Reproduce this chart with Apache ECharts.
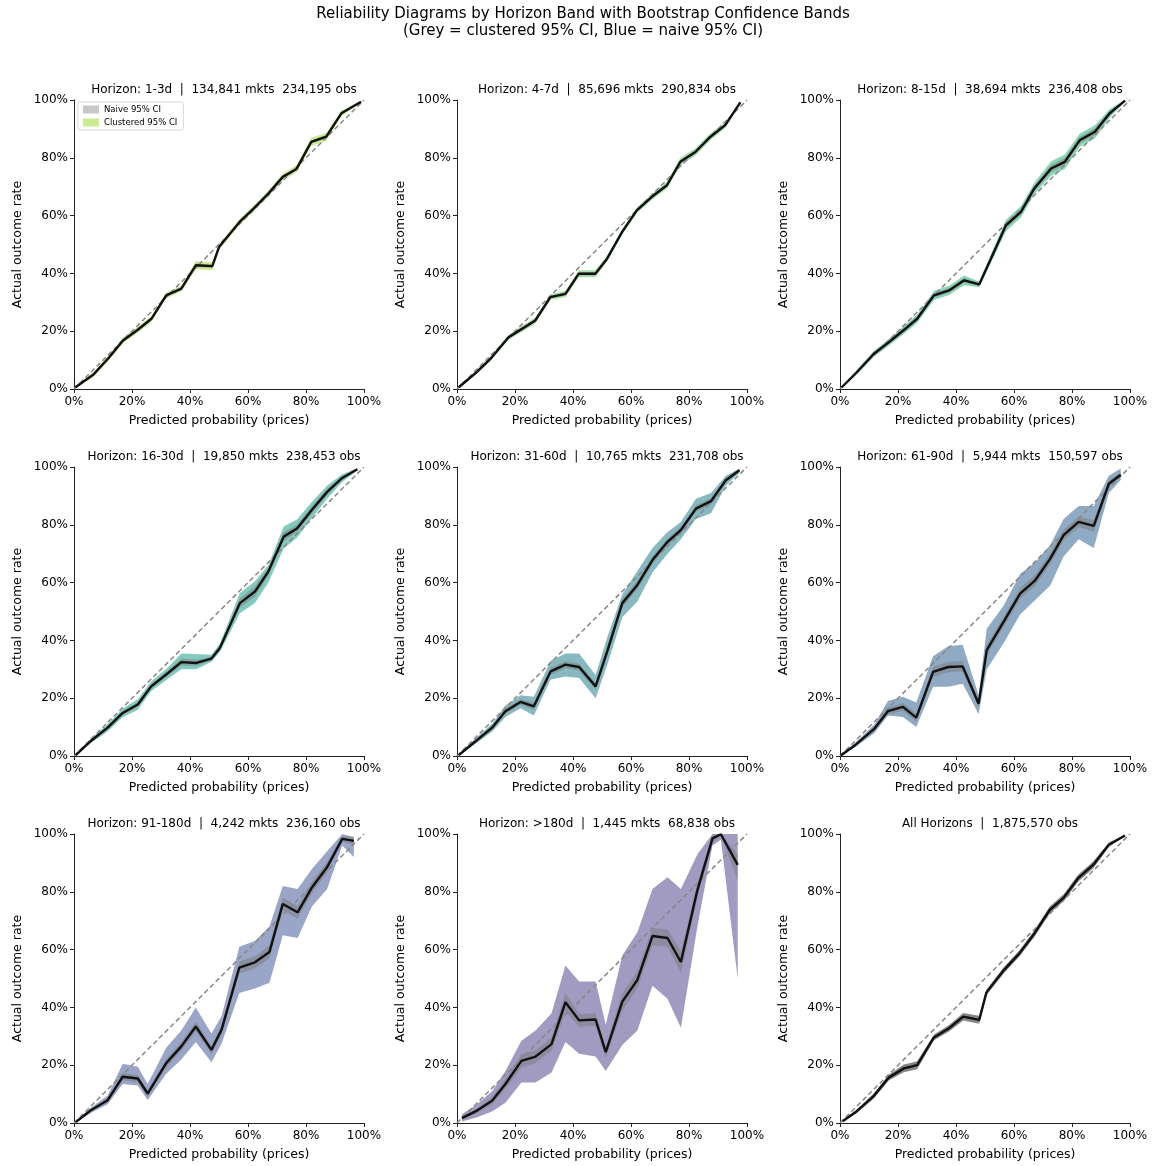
<!DOCTYPE html>
<html>
<head>
<meta charset="utf-8">
<script src="https://cdn.jsdelivr.net/npm/echarts@6/dist/echarts.min.js"></script>
<style>
  html, body { margin: 0; padding: 0; background: #fff; }
  #chart { width: 1156px; height: 1166px; }
</style>
</head>
<body>
<div id="chart"></div>
<script>
// ---- Reliability data: mean predicted probability (%) per bin, observed rate (%),
// ---- clustered bootstrap 95% CI and naive bootstrap 95% CI.

const panelTitles = [
  'Horizon: 1-3d  |  134,841 mkts  234,195 obs',
  'Horizon: 4-7d  |  85,696 mkts  290,834 obs',
  'Horizon: 8-15d  |  38,694 mkts  236,408 obs',
  'Horizon: 16-30d  |  19,850 mkts  238,453 obs',
  'Horizon: 31-60d  |  10,765 mkts  231,708 obs',
  'Horizon: 61-90d  |  5,944 mkts  150,597 obs',
  'Horizon: 91-180d  |  4,242 mkts  236,160 obs',
  'Horizon: >180d  |  1,445 mkts  68,838 obs',
  'All Horizons  |  1,875,570 obs'
];

// 1-3d
const pred_1_3   = [0.5, 6.6, 12, 16.9, 22, 26.7, 31.8, 37, 42, 47.7, 50, 57.1, 62, 67, 72, 76.7, 81.8, 87, 92.2, 99];
const obs_1_3    = [0.6, 4.9, 10.8, 16.8, 20.5, 24.3, 32.4, 34.7, 42.8, 42.5, 49.1, 57.8, 62.5, 67.6, 73.4, 76.1, 85.5, 87.3, 95.4, 99.4];
const cluLo_1_3  = [0.3, 4.1, 9.9, 15.8, 19.5, 23.3, 31.4, 33.7, 41.4, 41.1, 48.1, 56.8, 61.5, 66.6, 72.2, 74.9, 84.1, 85.9, 94.4, 99.1];
const cluHi_1_3  = [0.9, 5.7, 11.7, 17.8, 21.5, 25.3, 33.4, 35.7, 44.2, 43.9, 50.1, 58.8, 63.5, 68.6, 74.6, 77.3, 86.9, 88.7, 96.4, 99.7];
const naiLo_1_3  = [0.4, 4.4, 10.3, 16.3, 20, 23.8, 31.9, 34.2, 42.2, 41.9, 48.6, 57.3, 62, 67.1, 72.9, 75.6, 84.9, 86.7, 94.9, 99.2];
const naiHi_1_3  = [0.8, 5.4, 11.3, 17.3, 21, 24.8, 32.9, 35.2, 43.4, 43.1, 49.6, 58.3, 63, 68.1, 73.9, 76.6, 86.1, 87.9, 95.9, 99.6];

// 4-7d
const pred_4_7   = [0.6, 6.5, 11.5, 17.8, 22.4, 27, 32.2, 37.4, 42, 47.7, 51.7, 56.9, 62, 67.2, 72.4, 77, 82.2, 87.4, 92.5, 97.7];
const obs_4_7    = [0.6, 5.6, 10.4, 17.9, 20.8, 23.7, 31.8, 32.9, 39.9, 39.9, 45, 54.3, 61.8, 66.5, 70.5, 78.6, 82, 87.3, 91.3, 99.2];
const cluLo_4_7  = [0.3, 4.9, 9.6, 17, 19.8, 22.7, 30.8, 31.8, 38.7, 38.7, 44, 53.3, 60.8, 65.5, 69.3, 77.3, 80.7, 86.1, 90.3, 98.9];
const cluHi_4_7  = [0.9, 6.3, 11.2, 18.8, 21.8, 24.7, 32.8, 34, 41.1, 41.1, 46, 55.3, 62.8, 67.5, 71.7, 79.9, 83.3, 88.5, 92.3, 99.5];
const naiLo_4_7  = [0.4, 5.1, 9.9, 17.4, 20.3, 23.2, 31.3, 32.4, 39.3, 39.3, 44.5, 53.8, 61.3, 66, 70, 78, 81.4, 86.8, 90.8, 99];
const naiHi_4_7  = [0.8, 6.1, 10.9, 18.4, 21.3, 24.2, 32.3, 33.4, 40.5, 40.5, 45.5, 54.8, 62.3, 67, 71, 79.2, 82.6, 87.8, 91.8, 99.4];

// 8-15d
const pred_8_15  = [0.6, 5.8, 11.6, 17, 22, 26.6, 32.4, 37.6, 42.8, 48, 52, 57.2, 62.4, 67, 72.8, 77.5, 82.7, 87.9, 93, 98.3];
const obs_8_15   = [0.6, 5.8, 12.1, 16.3, 20.4, 24.3, 32.4, 34.1, 37.6, 36.2, 45, 56.6, 61.3, 69.4, 76.3, 78.6, 86.1, 89, 95.4, 99.8];
const cluLo_8_15 = [0.3, 5, 11.1, 15.1, 19, 22.8, 30.8, 32.5, 35.9, 35.2, 43.5, 54.6, 59.3, 67.4, 73.8, 76.1, 83.8, 86.7, 93.9, 99.5];
const cluHi_8_15 = [0.9, 6.6, 13.1, 17.5, 21.8, 25.8, 34, 35.7, 39.3, 37.2, 46.5, 58.6, 63.3, 71.4, 78.8, 81.1, 88.4, 91.3, 96.9, 100];
const naiLo_8_15 = [0.4, 5.3, 11.4, 15.6, 19.6, 23.5, 31.6, 33.3, 36.8, 35.6, 44.2, 55.6, 60.3, 68.4, 75, 77.3, 84.9, 87.8, 94.6, 99.6];
const naiHi_8_15 = [0.8, 6.3, 12.8, 17, 21.2, 25.1, 33.2, 34.9, 38.4, 36.8, 45.8, 57.6, 62.3, 70.4, 77.6, 79.9, 87.3, 90.2, 96.2, 100];

// 16-30d
const pred_16_30  = [0.6, 5.8, 11.6, 16.8, 22, 26.6, 31.8, 37, 42.2, 47.4, 50.3, 57.2, 62.4, 67, 72.3, 76.9, 82, 87.3, 92.5, 97.7];
const obs_16_30   = [0.3, 5.2, 9.8, 14.9, 17.8, 24.1, 28.2, 32.5, 32.2, 33.7, 37.4, 52.9, 56.9, 63.8, 75.9, 78.7, 85.1, 91.4, 96.2, 99.2];
const cluLo_16_30 = [0.1, 4.4, 8.5, 13.4, 16, 22.4, 26.3, 30, 30, 32.6, 36, 49.4, 52.9, 60, 71.8, 75.5, 82.3, 89, 94.8, 98.8];
const cluHi_16_30 = [0.5, 6, 11.1, 16.4, 19.6, 25.8, 30.1, 35.5, 35.3, 35, 38.8, 56.4, 60.5, 66, 79.4, 81.8, 87.9, 93.6, 97.5, 99.6];
const naiLo_16_30 = [0.2, 4.8, 9.2, 14.2, 17, 23.3, 27.3, 31.3, 31.1, 33.1, 36.7, 51.3, 55.1, 62.5, 74.4, 77.4, 83.9, 90.4, 95.6, 99];
const naiHi_16_30 = [0.4, 5.6, 10.4, 15.6, 18.6, 24.9, 29.1, 33.7, 33.3, 34.3, 38.1, 54.5, 58.7, 65.1, 77.4, 80, 86.3, 92.4, 96.8, 99.4];

// 31-60d
const pred_31_60  = [0.6, 5.8, 12.1, 16.7, 21.9, 26.5, 32.3, 37.4, 42.1, 47.8, 51.8, 57, 62.2, 67.4, 72.6, 77.2, 82.4, 87.6, 92.7, 97.4];
const obs_31_60   = [0.3, 4.6, 9.8, 15.5, 18.7, 17.2, 29.3, 31.6, 30.8, 24.1, 36.2, 52.9, 59.2, 67.8, 74.1, 78.2, 85.6, 88.2, 95.4, 98.9];
const cluLo_31_60 = [0.1, 3.8, 8.4, 13.5, 16.5, 14, 26.5, 27.5, 27, 20, 31.5, 48, 53.5, 63.5, 70, 75, 82, 84, 93.5, 98];
const cluHi_31_60 = [0.6, 5.5, 11.2, 17.5, 21, 20.5, 33, 35.5, 35.5, 28, 41, 56, 64, 72, 77.5, 81, 89, 91, 97, 99.5];
const naiLo_31_60 = [0.2, 4.1, 9.1, 14.6, 17.7, 16, 28.1, 30.4, 29.6, 22.9, 34.8, 51.5, 57.8, 66.5, 72.9, 77.1, 84.5, 87.1, 94.6, 98.6];
const naiHi_31_60 = [0.5, 5.1, 10.5, 16.4, 19.7, 18.4, 30.5, 32.8, 32, 25.3, 37.6, 54.3, 60.6, 69.1, 75.3, 79.3, 86.7, 89.3, 96.2, 99.2];

// 61-90d
const pred_61_90  = [0.3, 5.5, 11.9, 16.5, 21.7, 26.3, 32.1, 37.3, 42.3, 47.8, 50.6, 56.4, 62.1, 67.3, 72.5, 77.1, 82.3, 87.5, 92.7, 96.8];
const obs_61_90   = [0.2, 4, 9.5, 15.5, 17, 13.3, 29.1, 30.8, 31, 18.1, 36.6, 46.4, 56.2, 60.8, 68.3, 76.4, 81, 79.6, 94.2, 97.3];
const cluLo_61_90 = [0.1, 3.2, 8, 14, 13.5, 10, 24, 24, 25, 14.5, 30, 39, 49, 54, 59, 69, 75, 72, 91, 95.5];
const cluHi_61_90 = [0.4, 4.8, 11, 19, 20.5, 18.5, 34.5, 38, 38.5, 21, 44, 52, 63, 67, 73, 82, 86.5, 86.5, 97, 99.5];
const naiLo_61_90 = [0.1, 3.6, 8.8, 14.3, 15.7, 11.9, 27.4, 29, 29.2, 16.8, 34.8, 44.6, 54.3, 58.9, 66.4, 74.6, 79.2, 77.6, 93, 96.6];
const naiHi_61_90 = [0.3, 4.4, 10.2, 16.7, 18.3, 14.7, 30.8, 32.6, 32.8, 19.4, 38.4, 48.2, 58.1, 62.7, 70.2, 78.2, 82.8, 81.6, 95.4, 98];

// 91-180d
const pred_91_180  = [0.6, 5.8, 11.6, 16.8, 22, 25.4, 31.8, 37, 42, 47.4, 50.9, 57, 62.4, 67.4, 72, 77.1, 82.1, 87.3, 92.5, 96.5];
const obs_91_180   = [0.3, 4.4, 7.9, 16, 15.4, 10.2, 20.7, 26.5, 33.4, 25.3, 32.3, 53.8, 55.6, 59.2, 75.8, 72.9, 81.6, 88.6, 98.3, 97.6];
const cluLo_91_180 = [0.1, 3.5, 6.5, 13.5, 13, 8, 17, 22, 28, 21, 27.5, 45, 46.5, 48.5, 65, 64, 75, 81, 96, 92];
const cluHi_91_180 = [0.6, 5.3, 9.5, 20.5, 19.5, 13.5, 26, 32, 40, 31, 37, 61, 63, 68, 82, 81, 88, 94, 100, 99];
const naiLo_91_180 = [0.2, 4, 7.2, 14.8, 14.2, 9.2, 19.3, 25, 31.8, 23.8, 30.8, 51.7, 53.5, 57, 73.6, 70.7, 79.6, 86.8, 97.3, 96.2];
const naiHi_91_180 = [0.4, 4.8, 8.6, 17.2, 16.6, 11.2, 22.1, 28, 35, 26.8, 33.8, 55.9, 57.7, 61.4, 78, 75.1, 83.6, 90.4, 99.3, 99];

// >180d
const pred_180p  = [1.7, 6.9, 12.1, 16.7, 22.2, 27.1, 32.6, 37.4, 42.1, 47.8, 51.3, 57, 62.2, 67.4, 72.6, 77.2, 82.9, 88.1, 91, 96.8];
const obs_180p   = [1.7, 4.3, 7.7, 13.5, 21.5, 23, 27.3, 41.8, 35.5, 35.8, 24.5, 42, 49.5, 64.7, 64, 55.7, 80.6, 98.5, 99.9, 89.3];
const cluLo_180p = [0.5, 2, 4, 7, 14, 14, 17.5, 28, 24, 23, 18, 27, 32, 47.5, 43, 33, 68, 96, 98, 50];
const cluHi_180p = [3, 6.5, 11, 18, 28.5, 32, 38, 54.5, 49, 49, 34, 58, 66, 81, 85, 81, 93, 100, 100, 100];
const naiLo_180p = [1.2, 3.5, 6.5, 11.8, 19.2, 20.8, 25, 38.5, 33.3, 33.6, 22.5, 39, 46.5, 61.5, 61, 52, 78, 97, 99.5, 84];
const naiHi_180p = [2.2, 5.1, 8.9, 15.2, 23.8, 25.2, 29.6, 45, 37.7, 38, 26.5, 45, 52.5, 67.5, 67, 59.5, 83, 99.5, 100, 93];

// All horizons
const pred_all  = [0.9, 5.8, 11.6, 16.8, 22, 26.6, 32.4, 37.6, 42.5, 48, 50.5, 56.6, 61.8, 67, 72.3, 77.2, 82.1, 87.3, 92.7, 98.3];
const obs_all   = [0.6, 4.1, 9.3, 15.7, 18.9, 20, 29.6, 32.8, 36.8, 35.7, 45.2, 53, 58.6, 65.5, 73.7, 78, 84.7, 89.3, 96.3, 99.5];
const cluLo_all = [0.4, 3.5, 8.4, 14.7, 17.6, 18.6, 28.6, 31.7, 35.5, 34.3, 44.2, 51.9, 57.5, 64.4, 72.5, 76.8, 83.5, 88.1, 95.5, 99.3];
const cluHi_all = [0.8, 4.7, 10.2, 16.7, 20.2, 21.4, 30.6, 33.9, 38.1, 37.1, 46.2, 54.1, 59.7, 66.6, 74.9, 79.2, 85.9, 90.5, 97.1, 99.7];
const naiLo_all = [0.5, 3.8, 9, 15.3, 18.4, 19.5, 29.2, 32.4, 36.3, 35.2, 44.8, 52.6, 58.2, 65.1, 73.3, 77.6, 84.3, 88.9, 96, 99.4];
const naiHi_all = [0.7, 4.4, 9.6, 16.1, 19.4, 20.5, 30, 33.2, 37.3, 36.2, 45.6, 53.4, 59, 65.9, 74.1, 78.4, 85.1, 89.7, 96.6, 99.6];

// Perfect-calibration reference
const diagonal = [[0, 0], [100, 100]];

// ---- Assemble panels
const panels = [
  { x: pred_1_3,    y: obs_1_3,    cLo: cluLo_1_3,    cHi: cluHi_1_3,    nLo: naiLo_1_3,    nHi: naiHi_1_3 },
  { x: pred_4_7,    y: obs_4_7,    cLo: cluLo_4_7,    cHi: cluHi_4_7,    nLo: naiLo_4_7,    nHi: naiHi_4_7 },
  { x: pred_8_15,   y: obs_8_15,   cLo: cluLo_8_15,   cHi: cluHi_8_15,   nLo: naiLo_8_15,   nHi: naiHi_8_15 },
  { x: pred_16_30,  y: obs_16_30,  cLo: cluLo_16_30,  cHi: cluHi_16_30,  nLo: naiLo_16_30,  nHi: naiHi_16_30 },
  { x: pred_31_60,  y: obs_31_60,  cLo: cluLo_31_60,  cHi: cluHi_31_60,  nLo: naiLo_31_60,  nHi: naiHi_31_60 },
  { x: pred_61_90,  y: obs_61_90,  cLo: cluLo_61_90,  cHi: cluHi_61_90,  nLo: naiLo_61_90,  nHi: naiHi_61_90 },
  { x: pred_91_180, y: obs_91_180, cLo: cluLo_91_180, cHi: cluHi_91_180, nLo: naiLo_91_180, nHi: naiHi_91_180 },
  { x: pred_180p,   y: obs_180p,   cLo: cluLo_180p,   cHi: cluHi_180p,   nLo: naiLo_180p,   nHi: naiHi_180p },
  { x: pred_all,    y: obs_all,    cLo: cluLo_all,    cHi: cluHi_all,    nLo: naiLo_all,    nHi: naiHi_all }
];

// Band colours (viridis, reversed, translucent); last panel uses a dark grey band
const bandColors = [
  'rgba(160,218,57,0.55)',
  'rgba(94,201,98,0.55)',
  'rgba(47,180,124,0.55)',
  'rgba(31,158,137,0.55)',
  'rgba(39,127,142,0.55)',
  'rgba(52,100,145,0.55)',
  'rgba(62,82,148,0.52)',
  'rgba(68,56,132,0.5)',
  'rgba(55,55,55,0.6)'
];
const naiveColor = 'rgba(120,120,120,0.45)';

const gridLefts = [74, 457, 840];
const gridTops = [100, 467, 834];
const gridW = 290, gridH = 289;
const FONT = 'DejaVu Sans';

const grids = [], xAxes = [], yAxes = [], titles = [], series = [];

titles.push({
  text: 'Reliability Diagrams by Horizon Band with Bootstrap Confidence Bands\n(Grey = clustered 95% CI, Blue = naive 95% CI)',
  left: 578, top: 1, textAlign: 'center',
  textStyle: { fontFamily: FONT, fontSize: 15, fontWeight: 'normal', color: '#000', lineHeight: 17 }
});

function bandSeries(i, name, xs, lo, hi, color) {
  return {
    type: 'custom', name: name,
    xAxisIndex: i, yAxisIndex: i,
    silent: true, clip: true,
    itemStyle: { color: color },
    data: [[xs[0], lo[0]]],
    renderItem: function (params, api) {
      const pts = [];
      for (let j = 0; j < xs.length; j++) pts.push(api.coord([xs[j], hi[j]]));
      for (let j = xs.length - 1; j >= 0; j--) pts.push(api.coord([xs[j], lo[j]]));
      return { type: 'polygon', shape: { points: pts }, style: { fill: color, stroke: null } };
    }
  };
}

panels.forEach(function (p, i) {
  const col = i % 3, row = Math.floor(i / 3);
  const left = gridLefts[col], top = gridTops[row];
  grids.push({ left: left, top: top, width: gridW, height: gridH });

  const axisCommon = {
    type: 'value', gridIndex: i, min: 0, max: 100, interval: 20,
    nameLocation: 'middle',
    nameTextStyle: { fontFamily: FONT, fontSize: 12.5, color: '#000' },
    axisLine: { show: true, lineStyle: { color: '#222', width: 1 } },
    axisTick: { show: true, inside: false, length: 4, lineStyle: { color: '#222', width: 1 } },
    axisLabel: { formatter: '{value}%', fontFamily: FONT, fontSize: 12, color: '#000', margin: 6 },
    splitLine: { show: false }
  };
  xAxes.push(Object.assign({}, axisCommon, {
    name: 'Predicted probability (prices)', nameGap: 25,
    axisLabel: Object.assign({}, axisCommon.axisLabel, { margin: 7 })
  }));
  yAxes.push(Object.assign({}, axisCommon, { name: 'Actual outcome rate', nameGap: 50 }));

  titles.push({
    text: panelTitles[i],
    left: left + gridW / 2, top: top - 21, textAlign: 'center',
    textStyle: { fontFamily: FONT, fontSize: 12, fontWeight: 'normal', color: '#000' }
  });

  series.push(bandSeries(i, i === 0 ? 'Clustered 95% CI' : 'clustered-' + i, p.x, p.cLo, p.cHi, bandColors[i]));
  series.push(bandSeries(i, i === 0 ? 'Naive 95% CI' : 'naive-' + i, p.x, p.nLo, p.nHi, naiveColor));

  series.push({
    type: 'line', xAxisIndex: i, yAxisIndex: i, silent: true,
    data: diagonal, symbol: 'none',
    lineStyle: { color: '#888', width: 1.5, type: [5, 3] }
  });

  series.push({
    type: 'line', xAxisIndex: i, yAxisIndex: i, silent: true,
    data: p.x.map(function (v, j) { return [v, p.y[j]]; }),
    symbol: 'none',
    lineStyle: { color: '#111', width: 2.4 }
  });
});

const chart = echarts.init(document.getElementById('chart'), null, { renderer: 'canvas' });
chart.setOption({
  backgroundColor: '#fff',
  animation: false,
  title: titles,
  grid: grids,
  xAxis: xAxes,
  yAxis: yAxes,
  legend: {
    data: [
      { name: 'Naive 95% CI', icon: 'rect', itemStyle: { color: 'rgb(200,200,200)' } },
      { name: 'Clustered 95% CI', icon: 'rect', itemStyle: { color: 'rgb(203,235,146)' } }
    ],
    selectedMode: false,
    orient: 'vertical',
    left: 78, top: 102,
    itemWidth: 16, itemHeight: 8, itemGap: 4,
    padding: [3, 6, 3, 5],
    borderColor: '#d8d8d8', borderWidth: 1, borderRadius: 2,
    backgroundColor: '#fff',
    textStyle: { fontFamily: FONT, fontSize: 8.5, color: '#000' }
  },
  series: series
});
</script>
</body>
</html>
